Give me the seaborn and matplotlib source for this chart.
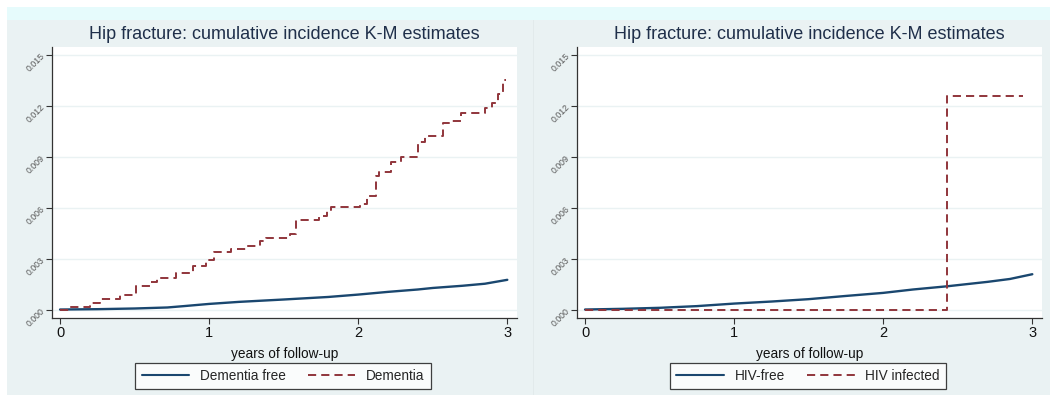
import numpy as np
import pandas as pd
import matplotlib
matplotlib.use("Agg")
import matplotlib.pyplot as plt
from matplotlib.patches import Rectangle
from matplotlib.lines import Line2D
import seaborn as sns

# Kaplan-Meier cumulative incidence of hip fracture (years of follow-up)
dem_free_t = [0.0, 0.25, 0.50, 0.72, 0.83, 1.00, 1.20, 1.50, 1.80, 2.00, 2.20, 2.40, 2.50, 2.70, 2.85, 3.00]
dem_free_v = [0.0, 0.00002, 0.00006, 0.00012, 0.00020, 0.00033, 0.00045, 0.00059, 0.00074, 0.00088,
              0.00104, 0.00118, 0.00127, 0.00140, 0.00152, 0.00175]

dem_t = [0.0, 0.07, 0.20, 0.27, 0.40, 0.51, 0.60, 0.65, 0.78, 0.89, 0.98, 1.03, 1.15, 1.25, 1.34,
         1.38, 1.54, 1.58, 1.74, 1.79, 1.82, 2.01, 2.06, 2.12, 2.14, 2.22, 2.29, 2.40, 2.45, 2.57,
         2.63, 2.69, 2.85, 2.90, 2.94, 2.97, 2.99]
dem_v = [0.0, 0.00014, 0.00039, 0.00063, 0.00086, 0.00137, 0.00160, 0.00186, 0.00216, 0.00255,
         0.00294, 0.00337, 0.00357, 0.00373, 0.00402, 0.00422, 0.00447, 0.00530, 0.00553, 0.00584,
         0.00604, 0.00624, 0.00670, 0.00784, 0.00808, 0.00870, 0.00900, 0.00990, 0.01020, 0.01100,
         0.01110, 0.01156, 0.01186, 0.01215, 0.01268, 0.01350, 0.01353]

hiv_free_t = [0.0, 0.25, 0.50, 0.75, 1.00, 1.25, 1.50, 1.75, 2.00, 2.20, 2.43, 2.70, 2.85, 3.00]
hiv_free_v = [0.0, 0.00004, 0.00010, 0.00020, 0.00035, 0.00047, 0.00061, 0.00080, 0.00098,
              0.00118, 0.00137, 0.00163, 0.00180, 0.00208]

hiv_t = [0.0, 2.43, 2.935]
hiv_v = [0.0, 0.0126, 0.0126]

y_ticks = [0.0, 0.003, 0.006, 0.009, 0.012, 0.015]
x_ticks = [0, 1, 2, 3]
title = "Hip fracture: cumulative incidence K-M estimates"
xlabel = "years of follow-up"

NAVY = "#1a476f"
MAROON = "#90353b"
BG = "#eaf2f3"
STRIP = "#e6fbfc"
TITLE_C = "#1f2f4a"

sns.set_theme(style="white")
plt.rcParams["font.family"] = ["Liberation Sans", "DejaVu Sans"]

W, H = 1050, 398
fig = plt.figure(figsize=(W / 100, H / 100), dpi=100, facecolor="white")

# panel backgrounds and the thin strip along the top
fig.patches.append(Rectangle((7 / W, 3 / H), (W - 7) / W, 1 - 23 / H, transform=fig.transFigure,
                             facecolor=BG, edgecolor="none", zorder=-3))
fig.patches.append(Rectangle((533 / W, 3 / H), 1 / W, 1 - 23 / H, transform=fig.transFigure,
                             facecolor="#e2eaeb", edgecolor="none", zorder=-2))
fig.patches.append(Rectangle((7 / W, 1 - 20 / H), (W - 7) / W, 13 / H, transform=fig.transFigure,
                             facecolor=STRIP, edgecolor="none", zorder=-3))


def panel(left_px, curves, labels):
    ax = fig.add_axes([left_px / W, 1 - 318 / H, 465 / W, 271 / H])
    ax.set_facecolor("white")
    for (t, v, color, dashed, step), lab in zip(curves, labels):
        df = pd.DataFrame({"t": t, "v": v})
        kw = dict(drawstyle="steps-post") if step else {}
        sns.lineplot(data=df, x="t", y="v", ax=ax, color=color, lw=1.4 if dashed else 1.7,
                     linestyle=(0, (4.2, 2.6)) if dashed else "-", estimator=None,
                     legend=False, **kw)
    ax.set_xlim(-0.054, 3.065)
    ax.set_ylim(-0.0005, 0.01547)
    ax.set_xticks(x_ticks)
    ax.set_xticklabels([str(x) for x in x_ticks], fontsize=10.5, color="#111111")
    ax.set_yticks(y_ticks)
    ax.set_yticklabels([f"{y:.3f}" for y in y_ticks], fontsize=6.3, color="#555555",
                       rotation=45, ha="right", va="center", rotation_mode="anchor")
    for y in y_ticks:
        ax.axhline(y, color=BG, lw=1.0, zorder=0)
    for s in ("top", "right"):
        ax.spines[s].set_visible(False)
    for s in ("left", "bottom"):
        ax.spines[s].set_color("#333333")
        ax.spines[s].set_linewidth(0.9)
    ax.tick_params(axis="both", which="both", direction="out", length=4, width=0.8,
                   color="#333333", left=True, bottom=True)
    ax.tick_params(axis="x", pad=1.5)
    ax.tick_params(axis="y", pad=2)
    ax.set_xlabel(xlabel, fontsize=9.8, color="#111111", labelpad=5)
    ax.set_ylabel("")
    ax.set_title(title, fontsize=13, color=TITLE_C, pad=6)
    handles = [Line2D([], [], color=NAVY, lw=1.5),
               Line2D([], [], color=MAROON, lw=1.4, linestyle=(0, (4.2, 2.6)))]
    leg = ax.legend(handles, labels, loc="center", bbox_to_anchor=(0.497, -0.214), ncol=2,
                    frameon=True, fancybox=False, fontsize=9.8, handlelength=3.5,
                    columnspacing=1.6, borderpad=0.45, handletextpad=0.8)
    leg.get_frame().set_edgecolor("#111111")
    leg.get_frame().set_linewidth(0.9)
    leg.get_frame().set_facecolor("white")
    return ax


panel(52, [(dem_free_t, dem_free_v, NAVY, False, False),
           (dem_t, dem_v, MAROON, True, True)],
      ["Dementia free", "Dementia"])
panel(577, [(hiv_free_t, hiv_free_v, NAVY, False, False),
            (hiv_t, hiv_v, MAROON, True, True)],
      ["HIV-free", "HIV infected"])

fig.savefig("out.png", dpi=100, facecolor="white")
